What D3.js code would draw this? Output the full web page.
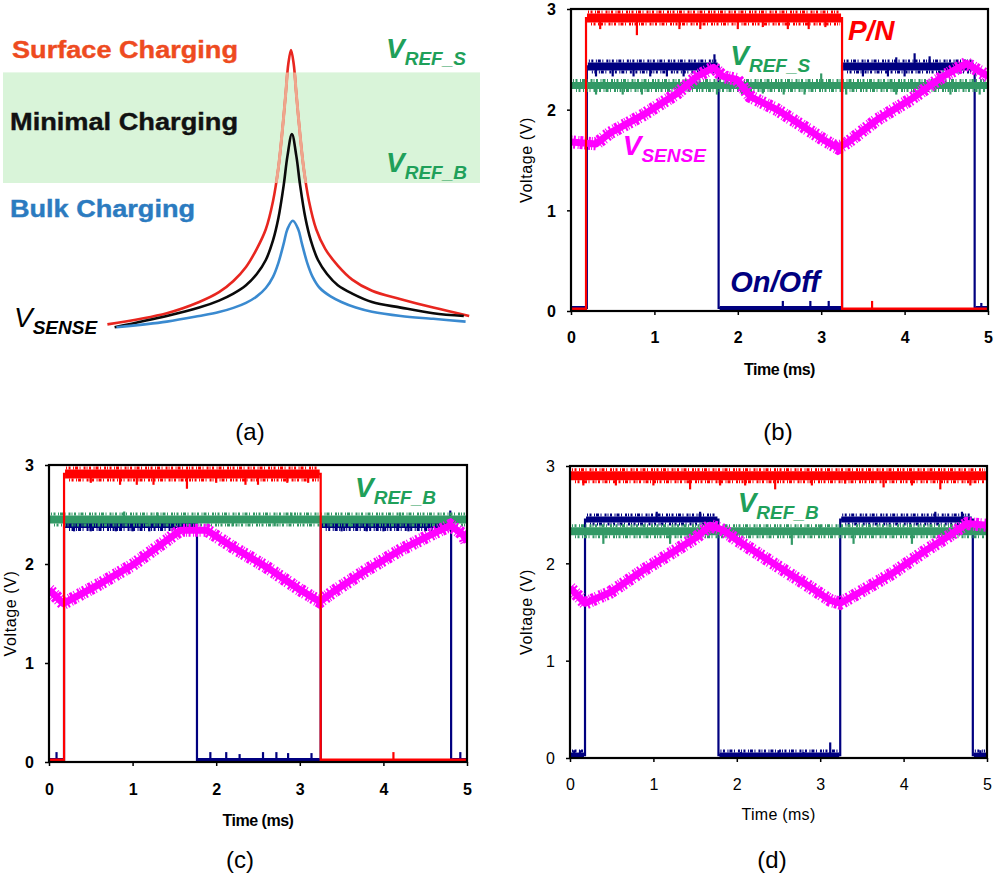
<!DOCTYPE html>
<html>
<head>
<meta charset="utf-8">
<script src="https://cdn.jsdelivr.net/npm/d3@7"></script>
<style>
  body { margin: 0; background: #fff; }
  svg { display: block; }
  text { font-family: "Liberation Sans", Arial, sans-serif; }
</style>
</head>
<body>
<script>
// ---------- data ----------
// (a) sketch: position relative to peak (-1..1), signal relative to surface peak (0..1)
const surfaceCurve = [[-1.02,0.02],[-0.69,0.06],[-0.51,0.10],[-0.40,0.135],[-0.32,0.175],[-0.25,0.225],[-0.19,0.29],[-0.14,0.36],[-0.10,0.46],[-0.07,0.58],[-0.05,0.70],[-0.03,0.84],[-0.015,0.95],[0,1.0],[0.015,0.95],[0.03,0.84],[0.05,0.70],[0.07,0.58],[0.10,0.46],[0.14,0.36],[0.19,0.29],[0.26,0.23],[0.34,0.18],[0.45,0.14],[0.61,0.11],[0.79,0.08],[0.99,0.05]];
const minimalCurve = [[-0.98,0.01],[-0.69,0.05],[-0.51,0.08],[-0.40,0.105],[-0.32,0.13],[-0.25,0.16],[-0.19,0.20],[-0.14,0.25],[-0.10,0.32],[-0.07,0.40],[-0.04,0.52],[-0.02,0.62],[0.005,0.70],[0.03,0.62],[0.05,0.52],[0.08,0.40],[0.11,0.32],[0.15,0.25],[0.20,0.20],[0.26,0.16],[0.34,0.13],[0.45,0.10],[0.61,0.08],[0.79,0.06],[0.96,0.05]];
const bulkCurve = [[-0.97,0.01],[-0.69,0.03],[-0.51,0.05],[-0.40,0.064],[-0.32,0.079],[-0.25,0.097],[-0.19,0.12],[-0.14,0.15],[-0.10,0.19],[-0.07,0.24],[-0.04,0.31],[-0.02,0.36],[0.01,0.39],[0.04,0.36],[0.06,0.31],[0.09,0.24],[0.12,0.19],[0.16,0.15],[0.22,0.12],[0.28,0.10],[0.36,0.08],[0.45,0.065],[0.61,0.05],[0.79,0.04],[0.97,0.03]];
const refWindow = [0.525, 0.92]; // VREF_B .. VREF_S

// scope panels: [time ms, voltage V]
const timeTicks = [0, 1, 2, 3, 4, 5];
const voltTicks = [0, 1, 2, 3];

const bPN = [[0,0.02],[0.18,0.02],[0.18,2.91],[3.25,2.91],[3.25,0.02],[5,0.02]];
const bPNSpikes = [[0.35,2.8],[0.79,2.74],[1.3,2.8],[1.55,2.8],[2.0,2.8],[2.3,2.82],[2.6,2.8],[2.85,2.8],[3.05,2.82],[3.61,0.1]];
const bOnOff = [[0,0.03],[0.19,0.03],[0.19,2.43],[1.77,2.43],[1.77,0.03],[3.25,0.03],[3.25,2.43],[4.84,2.43],[4.84,0.03],[5,0.03]];
const bOnOffSpikes = [[0.3,2.33],[0.5,2.33],[0.75,2.33],[0.95,2.33],[1.15,2.33],[1.35,2.33],[1.55,2.33],[1.72,2.55],[3.5,2.33],[3.8,2.33],[3.9,2.52],[4.0,2.33],[4.12,2.56],[4.3,2.53],[4.5,2.33],[2.54,0.1],[2.87,0.1],[3.09,0.1],[4.92,0.08]];
const bVref = [[0,2.24],[5,2.24]];
const bVrefSpikes = [[0.3,2.15],[0.62,2.15],[0.85,2.15],[1.3,2.15],[1.75,2.15],[2.05,2.15],[2.3,2.16],[2.55,2.15],[2.8,2.15],[3.0,2.36],[3.3,2.15],[3.9,2.15],[4.2,2.15],[4.4,2.34],[4.55,2.15],[4.9,2.15]];
const bSense = [[0,1.68],[0.3,1.66],[0.47,1.77],[0.87,1.95],[1.27,2.16],[1.51,2.33],[1.71,2.42],[1.82,2.33],[1.99,2.3],[2.15,2.13],[2.47,2.0],[2.79,1.83],[3.03,1.7],[3.2,1.62],[3.31,1.67],[3.67,1.9],[4.07,2.1],[4.46,2.33],[4.74,2.46],[5,2.33]];

const cPN = [[0,0.02],[0.18,0.02],[0.18,2.91],[3.25,2.91],[3.25,0.02],[5,0.02]];
const cPNSpikes = [[0.5,2.82],[0.85,2.8],[1.05,2.8],[1.25,2.8],[1.65,2.76],[2.0,2.82],[2.35,2.8],[2.5,2.8],[2.85,2.82],[3.1,2.82],[4.12,0.1]];
const cOnOff = [[0,0.02],[0.18,0.02],[0.18,2.4],[1.77,2.4],[1.77,0.02],[3.25,0.02],[3.25,2.4],[4.81,2.4],[4.81,0.02],[5,0.02]];
const cOnOffSpikes = [[0.09,0.1],[1.93,0.1],[2.12,0.1],[2.28,0.08],[2.56,0.1],[2.72,0.1],[2.86,0.09],[3.14,0.09],[4.92,0.1],[4.8,2.54],[0.3,2.33],[0.5,2.33],[0.8,2.33],[1.0,2.33],[1.2,2.33],[3.5,2.33],[3.8,2.33],[4.0,2.33],[4.3,2.33],[4.5,2.33]];
const cVref = [[0,2.45],[5,2.45]];
const cVrefSpikes = [[0.6,2.38],[0.9,2.53],[1.2,2.38],[1.3,2.52],[2.2,2.38],[2.7,2.38],[2.9,2.52],[3.6,2.38],[4.2,2.52]];
const cSense = [[0,1.74],[0.17,1.6],[0.61,1.8],[1.0,1.99],[1.41,2.24],[1.57,2.34],[1.89,2.34],[2.2,2.17],[2.6,1.97],[3.0,1.74],[3.24,1.62],[3.4,1.72],[3.8,1.94],[4.2,2.14],[4.6,2.31],[4.8,2.39],[4.95,2.3],[5,2.22]];

const dPN = [[0,2.9],[5,2.9]];
const dPNSpikes = [[0.16,2.8],[0.55,2.8],[1.0,2.8],[1.44,2.76],[1.8,2.8],[2.1,2.8],[2.46,2.76],[2.9,2.8],[3.3,2.82],[3.76,2.78],[4.1,2.8],[4.44,2.76],[4.8,2.8]];
const dOnOff = [[0,0.03],[0.18,0.03],[0.18,2.45],[1.78,2.45],[1.78,0.03],[3.24,0.03],[3.24,2.45],[4.83,2.45],[4.83,0.03],[5,0.03]];
const dOnOffSpikes = [[1.04,2.53],[1.56,2.53],[4.38,2.53],[4.7,2.53],[0.05,0.08],[0.12,0.08],[2.05,0.06],[2.5,0.08],[2.8,0.06],[3.12,0.16],[4.92,0.08]];
const dVref = [[0,2.33],[5,2.33]];
const dVrefSpikes = [[0.4,2.2],[1.2,2.2],[1.7,2.42],[2.0,2.2],[2.66,2.19],[3.0,2.4],[3.4,2.2],[4.1,2.2]];
const dSense = [[0,1.75],[0.18,1.59],[0.48,1.7],[0.88,1.93],[1.28,2.14],[1.52,2.27],[1.68,2.39],[1.84,2.34],[2.0,2.24],[2.4,2.02],[2.8,1.8],[3.12,1.62],[3.24,1.59],[3.47,1.7],[3.87,1.9],[4.28,2.14],[4.56,2.29],[4.76,2.41],[5,2.39]];

// colours
const RED = "#ff0000", NAVY = "#000080", SEA = "#339966", MAG = "#ff00ff", LABEL_GREEN = "#1fa05a";
// dash pattern used to give the scope bands their ragged edge
const RAGGED = "1,1.5,2,2.5,1,1,3,1.5,1,3,2,1";

const svg = d3.select("body").append("svg")
  .attr("width", 996).attr("height", 882);

// ---------- (a) sketch ----------
const sx = d3.scaleLinear().domain([-1, 1]).range([111, 471]);
const sy = d3.scaleLinear().domain([0, 1]).range([330, 50]);
const sketchLine = d3.line().x(d => sx(d[0])).y(d => sy(d[1])).curve(d3.curveCatmullRom.alpha(0.5));

svg.append("rect")
  .attr("x", sx(-1.6)).attr("width", sx(1.05) - sx(-1.6))
  .attr("y", sy(refWindow[1])).attr("height", sy(refWindow[0]) - sy(refWindow[1]))
  .attr("fill", "#d9f4d9");

svg.append("clipPath").attr("id", "bandClip")
  .append("rect")
  .attr("x", 0).attr("width", 500)
  .attr("y", sy(refWindow[1])).attr("height", sy(refWindow[0]) - sy(refWindow[1]));

svg.append("path").attr("d", sketchLine(surfaceCurve))
  .attr("fill", "none").attr("stroke", "#e8261f").attr("stroke-width", 2.6);
svg.append("path").attr("d", sketchLine(surfaceCurve))
  .attr("clip-path", "url(#bandClip)")
  .attr("fill", "none").attr("stroke", "#efa58c").attr("stroke-width", 3);
svg.append("path").attr("d", sketchLine(minimalCurve))
  .attr("fill", "none").attr("stroke", "#0a0a0a").attr("stroke-width", 2.6);
svg.append("path").attr("d", sketchLine(bulkCurve))
  .attr("fill", "none").attr("stroke", "#3a8ad0").attr("stroke-width", 2.6);

function sketchLabel(txt, x, y, color, len) {
  svg.append("text").attr("x", x).attr("y", y)
    .attr("font-weight", "bold")
    .attr("font-size", 24).attr("fill", color)
    .attr("stroke", color).attr("stroke-width", 0.4)
    .attr("textLength", len).attr("lengthAdjust", "spacingAndGlyphs")
    .text(txt);
}
sketchLabel("Surface Charging", 12, 58, "#ee4b1f", 226);
sketchLabel("Minimal Charging", 10, 130, "#111", 228);
sketchLabel("Bulk Charging", 10, 217, "#2b7bc0", 185);

// V with italic subscript
function vLabel(x, y, sub, color, bigSize, subSize, bigWeight) {
  const t = svg.append("text").attr("x", x).attr("y", y)
    .attr("font-style", "italic").attr("fill", color);
  t.append("tspan").attr("font-size", bigSize).attr("font-weight", bigWeight || "bold").text("V");
  t.append("tspan").attr("font-size", subSize).attr("font-weight", "bold").attr("dy", 7).text(sub);
}
vLabel(386, 58, "REF_S", LABEL_GREEN, 28, 19);
vLabel(386, 172, "REF_B", LABEL_GREEN, 28, 19);
vLabel(14, 327, "SENSE", "#000", 28, 19, "normal");

// ---------- scope panels ----------
function levelAt(pts, t) {
  for (let i = 0; i < pts.length - 1; i++) {
    const a = pts[i], b = pts[i + 1];
    if (a[1] === b[1] && t >= a[0] && t <= b[0]) return a[1];
  }
  return pts[0][1];
}

function drawScope(cfg) {
  const x = d3.scaleLinear().domain([0, 5]).range(cfg.xr);
  const y = d3.scaleLinear().domain([0, 3]).range(cfg.yr);
  const g = svg.append("g");
  const clipId = "clip" + cfg.id;
  g.append("clipPath").attr("id", clipId).append("rect")
    .attr("x", cfg.xr[0]).attr("y", cfg.yr[1])
    .attr("width", cfg.xr[1] - cfg.xr[0]).attr("height", cfg.yr[0] - cfg.yr[1]);
  const plot = g.append("g").attr("clip-path", `url(#${clipId})`);
  const line = d3.line().x(d => x(d[0])).y(d => y(d[1]));

  cfg.traces.forEach(tr => {
    if (tr.ramp) {
      plot.append("path").attr("d", line(tr.pts))
        .attr("fill", "none").attr("stroke", tr.color)
        .attr("stroke-width", tr.hi + 6).attr("stroke-dasharray", RAGGED);
      plot.append("path").attr("d", line(tr.pts))
        .attr("fill", "none").attr("stroke", tr.color)
        .attr("stroke-width", tr.hi).attr("stroke-linejoin", "round");
      return;
    }
    // thin connecting trace (edges)
    plot.append("path").attr("d", line(tr.pts))
      .attr("fill", "none").attr("stroke", tr.color).attr("stroke-width", 2.2);
    // noisy bands on flat levels
    for (let i = 0; i < tr.pts.length - 1; i++) {
      const a = tr.pts[i], b = tr.pts[i + 1];
      if (a[1] !== b[1] || a[0] === b[0]) continue;
      const w = a[1] > 1 ? tr.hi : tr.lo;
      const seg = plot.append("g");
      seg.append("line")
        .attr("x1", x(a[0]) + 1).attr("x2", x(b[0]) - 1)
        .attr("y1", y(a[1])).attr("y2", y(a[1]))
        .attr("stroke", tr.color).attr("stroke-width", w);
      if (w >= 5) {
        [-1, 1].forEach((s, k) => {
          seg.append("line")
            .attr("x1", x(a[0]) + 2 + k * 3).attr("x2", x(b[0]) - 2)
            .attr("y1", y(a[1]) + s * (w / 2 + 1.5)).attr("y2", y(a[1]) + s * (w / 2 + 1.5))
            .attr("stroke", tr.color).attr("stroke-width", 3)
            .attr("stroke-dasharray", RAGGED);
        });
      }
    }
    plot.selectAll(null).data(tr.spikes || []).enter().append("line")
      .attr("x1", d => x(d[0])).attr("x2", d => x(d[0]))
      .attr("y1", d => y(levelAt(tr.pts, d[0]))).attr("y2", d => y(d[1]))
      .attr("stroke", tr.color).attr("stroke-width", 2.2);
  });

  // frame
  g.append("rect")
    .attr("x", cfg.xr[0]).attr("y", cfg.yr[1])
    .attr("width", cfg.xr[1] - cfg.xr[0]).attr("height", cfg.yr[0] - cfg.yr[1])
    .attr("fill", "none").attr("stroke", "#000").attr("stroke-width", 2.2);

  const weight = cfg.bold ? "bold" : "normal";
  const xa = g.append("g").attr("transform", `translate(0,${cfg.yr[0]})`)
    .call(d3.axisBottom(x).tickValues(timeTicks).tickSize(4).tickFormat(d3.format("d")));
  xa.select(".domain").remove();
  xa.selectAll("line").attr("stroke", "#000").attr("stroke-width", 1.5);
  xa.selectAll("text").attr("y", cfg.tickBase).attr("dy", 0)
    .attr("font-size", 16).attr("font-weight", weight)
    .attr("font-family", "Liberation Sans, Arial, sans-serif").attr("fill", "#000");

  const ya = g.append("g").attr("transform", `translate(${cfg.xr[0]},0)`)
    .call(d3.axisLeft(y).tickValues(voltTicks).tickSize(4).tickFormat(d3.format("d")));
  ya.select(".domain").remove();
  ya.selectAll("line").attr("stroke", "#000").attr("stroke-width", 1.5);
  ya.selectAll("text").attr("x", -15).attr("dy", "0.36em")
    .attr("font-size", 16).attr("font-weight", weight)
    .attr("font-family", "Liberation Sans, Arial, sans-serif").attr("fill", "#000");

  g.append("text")
    .attr("x", (cfg.xr[0] + cfg.xr[1]) / 2).attr("y", cfg.timeBase)
    .attr("text-anchor", "middle").attr("font-size", 16).attr("font-weight", weight)
    .attr("letter-spacing", cfg.bold ? -0.5 : 0.3)
    .text("Time (ms)");
  g.append("text")
    .attr("transform", `translate(${cfg.voltX},${(cfg.yr[0] + cfg.yr[1]) / 2}) rotate(-90)`)
    .attr("text-anchor", "middle").attr("font-size", 16).attr("letter-spacing", 0.6)
    .text("Voltage (V)");

  (cfg.labels || []).forEach(l => {
    const t = g.append("text").attr("x", x(l.t)).attr("y", y(l.v))
      .attr("font-style", "italic").attr("font-weight", "bold").attr("fill", l.color);
    if (l.sub) {
      t.append("tspan").attr("font-size", 28).text(l.main);
      t.append("tspan").attr("font-size", 19).attr("dy", 7).text(l.sub);
    } else {
      t.attr("font-size", l.size).text(l.main);
    }
  });
}

drawScope({
  id: "b", xr: [571, 988], yr: [311, 9], bold: true, tickBase: 32, timeBase: 375, voltX: 532,
  traces: [
    { pts: bOnOff, spikes: bOnOffSpikes, color: NAVY, hi: 8, lo: 4 },
    { pts: bVref, spikes: bVrefSpikes, color: SEA, hi: 7, lo: 7 },
    { pts: bSense, color: MAG, hi: 7, ramp: true },
    { pts: bPN, spikes: bPNSpikes, color: RED, hi: 9, lo: 3 }
  ],
  labels: [
    { t: 3.32, v: 2.69, main: "P/N", color: RED, size: 28 },
    { t: 1.91, v: 2.44, main: "V", sub: "REF_S", color: LABEL_GREEN },
    { t: 0.62, v: 1.55, main: "V", sub: "SENSE", color: MAG },
    { t: 1.91, v: 0.19, main: "On/Off", color: NAVY, size: 29 }
  ]
});

drawScope({
  id: "c", xr: [49, 467], yr: [762, 465], bold: true, tickBase: 33, timeBase: 826, voltX: 16,
  traces: [
    { pts: cOnOff, spikes: cOnOffSpikes, color: NAVY, hi: 7, lo: 4 },
    { pts: cVref, spikes: cVrefSpikes, color: SEA, hi: 8, lo: 8 },
    { pts: cSense, color: MAG, hi: 7, ramp: true },
    { pts: cPN, spikes: cPNSpikes, color: RED, hi: 9, lo: 3 }
  ],
  labels: [
    { t: 3.66, v: 2.68, main: "V", sub: "REF_B", color: LABEL_GREEN }
  ]
});

drawScope({
  id: "d", xr: [570, 987], yr: [758, 466], bold: false, tickBase: 32, timeBase: 820, voltX: 532,
  traces: [
    { pts: dOnOff, spikes: dOnOffSpikes, color: NAVY, hi: 6, lo: 5 },
    { pts: dVref, spikes: dVrefSpikes, color: SEA, hi: 8, lo: 8 },
    { pts: dSense, color: MAG, hi: 7, ramp: true },
    { pts: dPN, spikes: dPNSpikes, color: RED, hi: 9, lo: 3 }
  ],
  labels: [
    { t: 2.01, v: 2.53, main: "V", sub: "REF_B", color: LABEL_GREEN }
  ]
});

// ---------- captions ----------
const captions = [["(a)", 250, 440], ["(b)", 778, 440], ["(c)", 240, 868], ["(d)", 772, 868]];
svg.selectAll(".cap").data(captions).enter().append("text")
  .attr("class", "cap")
  .attr("x", d => d[1]).attr("y", d => d[2])
  .attr("text-anchor", "middle")
  .attr("font-family", "Liberation Serif, Times New Roman, serif")
  .attr("font-size", 24)
  .text(d => d[0]);
</script>
</body>
</html>
